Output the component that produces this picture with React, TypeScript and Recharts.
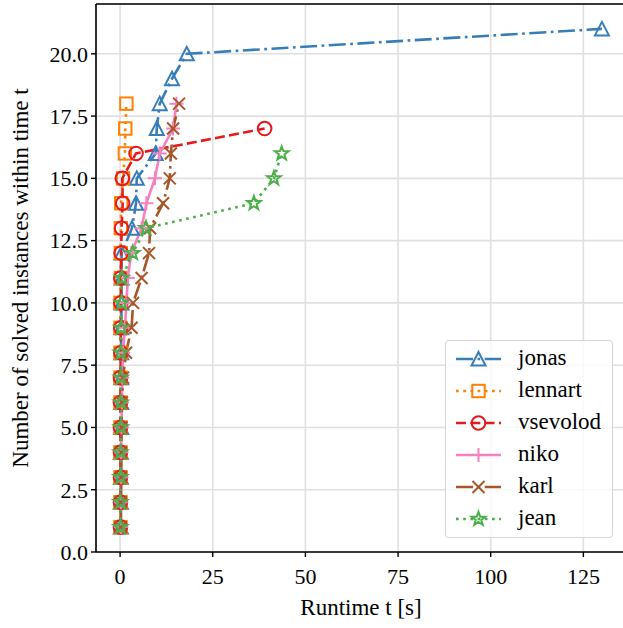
import React from "react";
import {
  LineChart,
  Line,
  XAxis,
  YAxis,
  CartesianGrid,
  ReferenceLine,
} from "recharts";

// number of solved instances (y), shared by all solvers
const solved = [1, 2, 3, 4, 5, 6, 7, 8, 9, 10, 11, 12, 13, 14, 15, 16, 17, 18, 19, 20, 21];

// runtime in seconds at which the n-th instance was solved
const jonasTime = [0.2, 0.2, 0.2, 0.2, 0.3, 0.3, 0.3, 0.3, 0.3, 0.4, 0.4, 0.4, 3.2, 4.3, 4.5, 9.6, 9.9, 10.7, 14.0, 18.0, 130.0];
const lennartTime = [0.1, 0.1, 0.1, 0.1, 0.1, 0.1, 0.1, 0.1, 0.1, 0.1, 0.2, 0.2, 0.2, 0.3, 0.8, 1.3, 1.4, 1.7];
const vsevolodTime = [0.1, 0.1, 0.1, 0.1, 0.1, 0.1, 0.1, 0.2, 0.2, 0.2, 0.2, 0.3, 0.4, 0.7, 0.6, 4.3, 39.0];
const nikoTime = [0.2, 0.2, 0.3, 0.3, 0.4, 0.5, 0.6, 0.8, 1.3, 1.7, 2.1, 3.0, 5.8, 7.1, 9.4, 10.7, 14.3, 15.2];
const karlTime = [0.2, 0.2, 0.3, 0.3, 0.4, 0.5, 0.8, 1.6, 3.1, 3.5, 5.8, 7.8, 8.1, 11.6, 13.4, 13.7, 14.3, 15.9];
const jeanTime = [0.1, 0.1, 0.1, 0.1, 0.2, 0.2, 0.2, 0.2, 0.3, 0.4, 0.5, 3.4, 7.0, 36.1, 41.5, 43.6];

const xTicks = [0, 25, 50, 75, 100, 125];
const yTicks = [0, 2.5, 5, 7.5, 10, 12.5, 15, 17.5, 20];

const FONT = "Liberation Serif";

type Shape = "triangle" | "square" | "circle" | "plus" | "cross" | "star";

const series: { name: string; times: number[]; color: string; dash?: string; shape: Shape }[] = [
  { name: "jonas", times: jonasTime, color: "#377eb8", dash: "17 4.5 2.7 4.5", shape: "triangle" },
  { name: "lennart", times: lennartTime, color: "#ff7f00", dash: "2.7 4.5", shape: "square" },
  { name: "vsevolod", times: vsevolodTime, color: "#e41a1c", dash: "10 4.3", shape: "circle" },
  { name: "niko", times: nikoTime, color: "#f781bf", shape: "plus" },
  { name: "karl", times: karlTime, color: "#a65628", dash: "17 4.5 2.7 4.5", shape: "cross" },
  { name: "jean", times: jeanTime, color: "#4daf4a", dash: "2.7 4.5", shape: "star" },
];

function Marker({ shape, cx, cy, color }: { shape: Shape; cx: number; cy: number; color: string }) {
  const common = { fill: "none", stroke: color, strokeWidth: 2 };
  if (shape === "triangle") {
    return <polygon {...common} points={`${cx},${cy - 7} ${cx - 7},${cy + 6.5} ${cx + 7},${cy + 6.5}`} />;
  }
  if (shape === "square") {
    return <rect {...common} x={cx - 6.2} y={cy - 6.2} width={12.4} height={12.4} />;
  }
  if (shape === "circle") {
    return <circle {...common} cx={cx} cy={cy} r={6.8} />;
  }
  if (shape === "plus") {
    return <path {...common} d={`M${cx - 7},${cy}H${cx + 7}M${cx},${cy - 7}V${cy + 7}`} />;
  }
  if (shape === "cross") {
    return <path {...common} d={`M${cx - 6},${cy - 6}L${cx + 6},${cy + 6}M${cx - 6},${cy + 6}L${cx + 6},${cy - 6}`} />;
  }
  // five pointed star
  const pts: string[] = [];
  for (let k = 0; k < 10; k++) {
    const r = k % 2 === 0 ? 7.2 : 2.9;
    const a = (Math.PI / 5) * k - Math.PI / 2;
    pts.push(`${cx + r * Math.cos(a)},${cy + r * Math.sin(a)}`);
  }
  return <polygon {...common} strokeLinejoin="miter" points={pts.join(" ")} />;
}

function LegendBox() {
  return (
    <div
      style={{
        position: "absolute",
        left: 445,
        top: 340,
        width: 166,
        height: 196,
        border: "1.5px solid rgba(204,204,204,0.8)",
        borderRadius: 4,
        background: "rgba(255,255,255,0.8)",
        fontFamily: FONT,
        fontSize: 23,
        color: "#000",
      }}
    >
      {series.map((s, i) => (
        <div
          key={s.name}
          style={{ position: "absolute", left: 0, top: 2 + i * 32, height: 32, display: "flex", alignItems: "center" }}
        >
          <svg width={72} height={32}>
            <line x1={10} x2={55} y1={16} y2={16} stroke={s.color} strokeWidth={2.6} strokeDasharray={s.dash} />
            <Marker shape={s.shape} cx={32.5} cy={16} color={s.color} />
          </svg>
          <span style={{ marginTop: -3 }}>{s.name}</span>
        </div>
      ))}
    </div>
  );
}

export default function App() {
  const tickStyle = { fontSize: 22, fill: "#000", fontFamily: FONT };
  return (
    <div
      style={{
        position: "absolute",
        left: 0,
        top: 0,
        width: 623,
        height: 628,
        overflow: "hidden",
        background: "#fff",
      }}
    >
      <LineChart width={626} height={628} margin={{ top: 4, right: 0, left: 0, bottom: 0 }}>
        <CartesianGrid stroke="#e0e0e0" strokeWidth={1.6} />
        <XAxis
          type="number"
          dataKey="t"
          domain={[-6.5, 136.5]}
          allowDataOverflow
          ticks={xTicks}
          tick={tickStyle}
          tickSize={5}
          tickMargin={11}
          height={76}
          axisLine={{ stroke: "#000", strokeWidth: 1.6 }}
          tickLine={{ stroke: "#000", strokeWidth: 1.4 }}
          label={{ value: "Runtime t [s]", position: "insideBottom", offset: 13, style: { fontSize: 23, fill: "#000", fontFamily: FONT } }}
        />
        <YAxis
          type="number"
          dataKey="n"
          domain={[0, 22]}
          allowDataOverflow
          ticks={yTicks}
          tickFormatter={(v: number) => v.toFixed(1)}
          tick={tickStyle}
          tickSize={5}
          tickMargin={3}
          width={96}
          axisLine={{ stroke: "#000", strokeWidth: 1.6 }}
          tickLine={{ stroke: "#000", strokeWidth: 1.4 }}
          label={{
            content: () => (
              <text
                x={20}
                y={278}
                transform="rotate(-90 20 278)"
                textAnchor="middle"
                dominantBaseline="central"
                fontFamily={FONT}
                fontSize={23}
                fill="#000"
              >
                Number of solved instances within time t
              </text>
            ),
          }}
        />
        <ReferenceLine y={22} stroke="#000" strokeWidth={1.6} />
        {series.map((s) => (
          <Line
            key={s.name}
            data={s.times.map((t, i) => ({ t, n: solved[i] }))}
            dataKey="n"
            type="linear"
            stroke={s.color}
            strokeWidth={2.6}
            strokeDasharray={s.dash}
            isAnimationActive={false}
            dot={(p: any) => <Marker key={`${s.name}-${p.index}`} shape={s.shape} cx={p.cx} cy={p.cy} color={s.color} />}
            activeDot={false}
          />
        ))}
      </LineChart>
      <LegendBox />
    </div>
  );
}
